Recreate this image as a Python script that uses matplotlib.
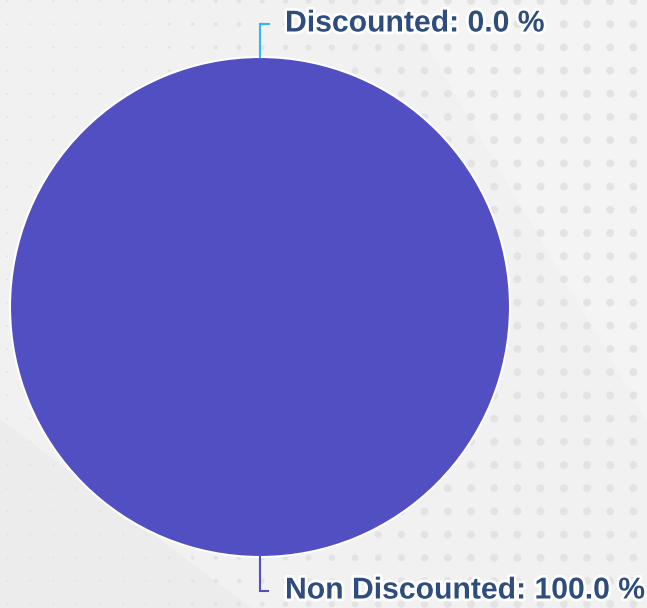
import numpy as np
import matplotlib.pyplot as plt
import matplotlib.patheffects as pe

# data
labels = ['Discounted', 'Non Discounted']
values = [0.0, 100.0]
colors = ['#35b3f5', '#524fc2']

W, H = 647, 608
fig = plt.figure(figsize=(W / 100, H / 100), dpi=100)
fig.patch.set_facecolor('#f1f1f1')

# background decoration: faint diagonal bands + dot grid
bg = fig.add_axes([0, 0, 1, 1])
bg.set_xlim(0, W)
bg.set_ylim(H, 0)
bg.axis('off')
bg.fill([0, 250, 0], [420, H, H], color='#ececec', zorder=0)
bg.fill([400, 647, 647], [0, 0, 420], color='#f4f4f4', zorder=0)
gx = np.arange(7, W, 23.2)
gy = np.arange(1, H, 23.2)
XX, YY = np.meshgrid(gx, gy)
XX = XX.ravel()
YY = YY.ravel()
t = np.clip((XX - 150) / 300, 0, 1)
bg.scatter(XX, YY, s=2 + 30 * t, c='#e3e3e3', linewidths=0, zorder=1)

# pie
ax = fig.add_axes([10 / W, 51 / H, 500 / W, 500 / H])
wedges, _ = ax.pie(values, colors=colors, startangle=90, counterclock=False,
                   radius=1.0,
                   wedgeprops=dict(edgecolor='white', linewidth=1.5))
ax.set_xlim(-1, 1)
ax.set_ylim(-1, 1)
ax.set_aspect('equal')
ax.axis('off')

total = sum(values)
for w, lab, val, col in zip(wedges, labels, values, colors):
    ang = np.deg2rad((w.theta1 + w.theta2) / 2)
    x0, y0 = np.cos(ang), np.sin(ang)
    sgn = 1 if y0 >= 0 else -1
    y1 = y0 + sgn * 0.134
    ax.plot([x0, x0, x0 + 0.034], [y0, y1, y1], color=col, lw=1.5,
            clip_on=False, solid_joinstyle='miter')
    ax.text(x0 + 0.1, y1, f'{lab}: {val / total * 100:.1f} %',
            ha='left', va='center', fontsize=21.7, fontweight='bold',
            color='#2e4d7c', family='Liberation Sans',
            path_effects=[pe.withStroke(linewidth=4, foreground='white')])

fig.savefig('out.png', dpi=100, facecolor=fig.get_facecolor())
